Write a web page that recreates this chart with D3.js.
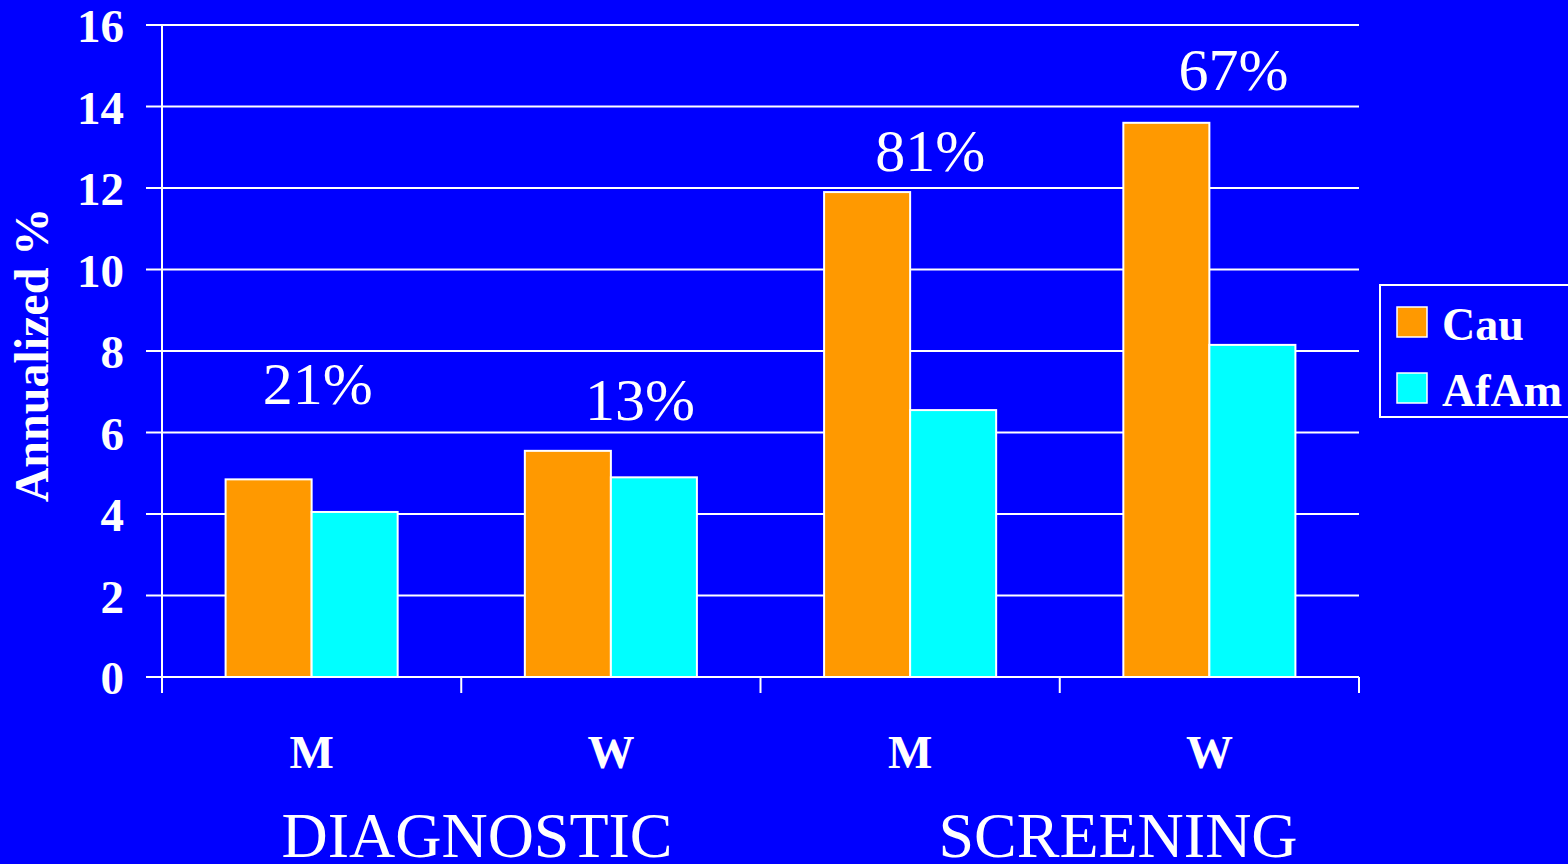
<!DOCTYPE html>
<html>
<head>
<meta charset="utf-8">
<script src="https://cdn.jsdelivr.net/npm/d3@7"></script>
<style>
  html, body { margin: 0; padding: 0; background: #0000FF; overflow: hidden; }
  svg { display: block; }
  text { font-family: "Liberation Serif", "Times New Roman", serif; fill: #fff; }
</style>
</head>
<body>
<svg id="chart" width="1568" height="864"></svg>
<script>
// Annualized rates by group
const categories = ["DM", "DW", "SM", "SW"];
const categoryLabels = ["M", "W", "M", "W"];
const seriesNames = ["Cau", "AfAm"];
const cauValues = [4.85, 5.55, 11.9, 13.6];
const afamValues = [4.05, 4.9, 6.55, 8.15];
const diffLabels = ["21%", "13%", "81%", "67%"];
const yTicks = [0, 2, 4, 6, 8, 10, 12, 14, 16];
const sectionLabels = ["DIAGNOSTIC", "SCREENING"];
const colors = ["#FF9900", "#00FFFF"];

const svg = d3.select("#chart");
const plotLeft = 162, plotRight = 1359, plotTop = 25, plotBottom = 677;

// placement of the free-floating annotations (pixel layout)
const diffLabelDx = [6, 29, 20, 24];
const diffLabelRise = [75, 31, 21, 33];
const sectionLabelX = [477, 1118];

const y = d3.scaleLinear().domain([0, 16]).range([plotBottom, plotTop]);
const x = d3.scaleBand().domain(categories).range([plotLeft, plotRight])
  .paddingInner(0.425).paddingOuter(0.2125);
const xs = d3.scaleBand().domain(seriesNames).range([0, x.bandwidth()]);

// gridlines
svg.append("g").selectAll("line").data(yTicks).join("line")
  .attr("x1", plotLeft - 16).attr("x2", plotRight)
  .attr("y1", d => y(d)).attr("y2", d => y(d))
  .attr("stroke", "#fff").attr("stroke-width", 2);

// y axis line
svg.append("line").attr("x1", plotLeft).attr("x2", plotLeft)
  .attr("y1", plotTop).attr("y2", plotBottom + 16)
  .attr("stroke", "#fff").attr("stroke-width", 2);

// x tick marks at band boundaries
const step = x.step();
const boundaries = d3.range(categories.length + 1).map(i => plotLeft + i * step);
svg.append("g").selectAll("line").data(boundaries).join("line")
  .attr("x1", d => d).attr("x2", d => d)
  .attr("y1", plotBottom).attr("y2", plotBottom + 16)
  .attr("stroke", "#fff").attr("stroke-width", 2);

// y tick labels
svg.append("g").selectAll("text").data(yTicks).join("text")
  .attr("x", 124).attr("y", d => y(d) + 17)
  .attr("text-anchor", "end").attr("font-weight", "bold").attr("font-size", 47)
  .text(d => d);

// bars
const rows = categories.map((c, i) => ({ c, vals: [cauValues[i], afamValues[i]] }));
const groups = svg.append("g").selectAll("g").data(rows).join("g")
  .attr("transform", d => `translate(${x(d.c)},0)`);
groups.selectAll("rect").data(d => d.vals.map((v, j) => ({ v, s: seriesNames[j], j })))
  .join("rect")
  .attr("x", d => xs(d.s)).attr("width", xs.bandwidth())
  .attr("y", d => y(d.v)).attr("height", d => y(0) - y(d.v))
  .attr("fill", d => colors[d.j]).attr("stroke", "#fff").attr("stroke-width", 2);

// percentage difference labels above each group
svg.append("g").selectAll("text").data(rows).join("text")
  .attr("x", (d, i) => x(d.c) + x.bandwidth() / 2 + diffLabelDx[i])
  .attr("y", (d, i) => y(d.vals[0]) - diffLabelRise[i])
  .attr("text-anchor", "middle").attr("font-size", 60)
  .text((d, i) => diffLabels[i]);

// category labels
svg.append("g").selectAll("text").data(categories).join("text")
  .attr("x", d => x(d) + x.bandwidth() / 2).attr("y", 768)
  .attr("text-anchor", "middle").attr("font-weight", "bold").attr("font-size", 47)
  .text((d, i) => categoryLabels[i]);

// section labels
svg.append("g").selectAll("text").data(sectionLabels).join("text")
  .attr("x", (d, i) => sectionLabelX[i])
  .attr("y", 857)
  .attr("text-anchor", "middle").attr("font-size", 64)
  .text(d => d);

// y axis title
svg.append("text")
  .attr("transform", "translate(48,355) rotate(-90)")
  .attr("text-anchor", "middle").attr("font-weight", "bold").attr("font-size", 48)
  .text("Annualized %");

// legend
const lg = svg.append("g").attr("transform", "translate(1380,285)");
lg.append("rect").attr("width", 200).attr("height", 132)
  .attr("fill", "none").attr("stroke", "#fff").attr("stroke-width", 2);
seriesNames.forEach((s, i) => {
  lg.append("rect").attr("x", 17).attr("y", 22 + i * 66).attr("width", 30).attr("height", 30)
    .attr("fill", colors[i]).attr("stroke", "#fff").attr("stroke-width", 1.5);
  lg.append("text").attr("x", 62).attr("y", 55 + i * 66)
    .attr("font-weight", "bold").attr("font-size", 46).text(s);
});
</script>
</body>
</html>
